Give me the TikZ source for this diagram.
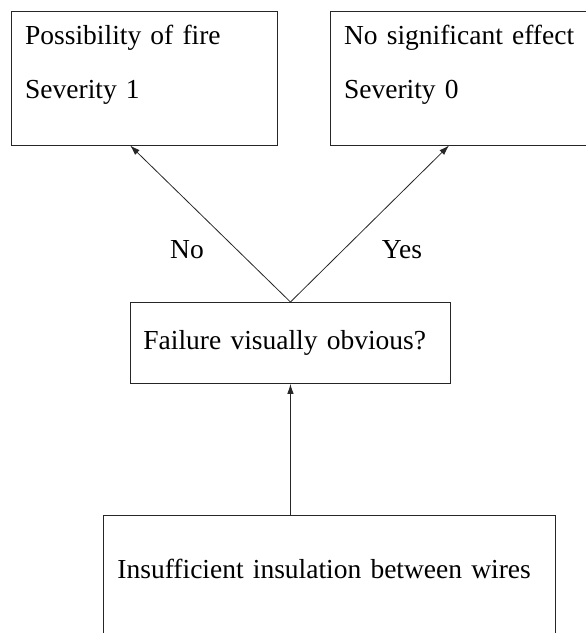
\documentclass[tikz,border=0pt]{standalone}
\usepackage{fontspec}
\setmainfont{Liberation Serif}
\usetikzlibrary{arrows.meta,positioning}
\tikzset{
  outcomebox/.style={rectangle, draw=black!85, line width=0.9pt,
    anchor=north west, align=left, text width=238pt,
    inner xsep=14pt, inner ysep=13.5pt, text depth=87.5pt,
    font=\fontsize{27.5}{54}\selectfont},
  querybox/.style={rectangle, draw=black!85, line width=0.9pt,
    anchor=north west, align=left, text width=294pt,
    inner xsep=13pt, minimum height=81pt,
    font=\fontsize{27.5}{33}\selectfont},
  causebox/.style={rectangle, draw=black!85, line width=0.9pt,
    anchor=north west, align=left, text width=424pt,
    inner xsep=14pt, inner ysep=44pt, text depth=70pt,
    font=\fontsize{27.5}{33}\selectfont},
  flowarrow/.style={-{Latex[length=10pt,width=6.5pt]}, line width=0.8pt, color=black!85},
  answer/.style={font=\fontsize{27.5}{33}\selectfont},
}
\begin{document}
\begin{tikzpicture}[x=1pt,y=1pt]
\useasboundingbox (0,0) rectangle (586,-633);
\clip (0,0) rectangle (586,-633);
\node[outcomebox] (fire) at (10.7,-10.7) {Possibility of fire\\Severity 1};
\node[outcomebox, right=52pt of fire] (noeffect) {No significant effect\\Severity 0};
\node[querybox] (query) at (130,-302) {Failure visually obvious?};
\node[causebox] (cause) at (103,-515) {Insufficient insulation between wires};
\draw[flowarrow] (query.north) -- ([xshift=-14pt]fire.south);
\draw[flowarrow] (query.north) -- ([xshift=-14pt]noeffect.south);
\draw[flowarrow] (query.south |- cause.north) -- (query.south);
\node[answer] (no) at (187,-250) {No};
\node[answer] (yes) at (402,-250) {Yes};
\end{tikzpicture}
\end{document}
